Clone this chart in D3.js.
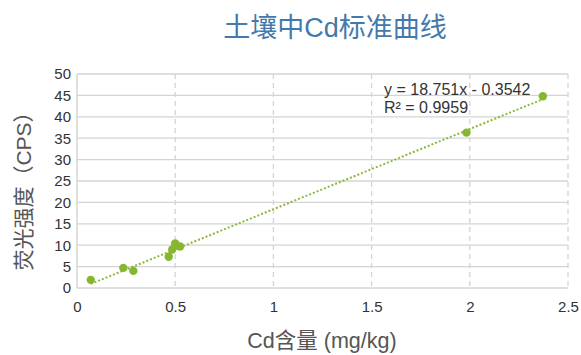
<!DOCTYPE html>
<html>
<head>
<meta charset="utf-8">
<script src="https://cdn.jsdelivr.net/npm/d3@7"></script>
<style>
  html, body { margin: 0; padding: 0; background: #fff; }
  svg { display: block; }
</style>
</head>
<body>
<svg id="chart" width="581" height="355"></svg>
<script>
// Calibration samples: Cd content (mg/kg) vs fluorescence intensity (CPS)
const concentration = [0.07, 0.236, 0.287, 0.467, 0.485, 0.5, 0.525, 1.983, 2.372];
const intensity     = [1.9, 4.7, 4.0, 7.3, 9.0, 10.4, 9.7, 36.3, 44.8];

// Linear fit reported for the calibration curve
const slope = 18.751;
const intercept = -0.3542;
const rSquared = 0.9959;

const xTicks = [0, 0.5, 1, 1.5, 2, 2.5];
const yTicks = [0, 5, 10, 15, 20, 25, 30, 35, 40, 45, 50];

const titleText = "土壤中Cd标准曲线";
const xLabel = "Cd含量 (mg/kg)";
const yLabel = "荧光强度（CPS）";

const svg = d3.select("#chart");
const latin = "'Liberation Sans', Arial, sans-serif";
const cjk = "'Liberation Sans', 'Noto Sans CJK SC', sans-serif";

const m = { left: 77, right: 568, top: 74, bottom: 288 };
const x = d3.scaleLinear().domain([0, 2.5]).range([m.left, m.right]);
const y = d3.scaleLinear().domain([0, 50]).range([m.bottom, m.top]);

// Horizontal gridlines (solid)
svg.append("g")
  .selectAll("line")
  .data(yTicks)
  .join("line")
  .attr("x1", m.left).attr("x2", m.right)
  .attr("y1", d => y(d)).attr("y2", d => y(d))
  .attr("stroke", "#d4d4d4").attr("stroke-width", 1.3);

// Vertical gridlines (dashed)
svg.append("g")
  .selectAll("line")
  .data(xTicks.filter(d => d > 0))
  .join("line")
  .attr("x1", d => x(d)).attr("x2", d => x(d))
  .attr("y1", m.top).attr("y2", m.bottom)
  .attr("stroke", "#d4d4d4").attr("stroke-width", 1.3)
  .attr("stroke-dasharray", "5,4");

// Left axis line
svg.append("line")
  .attr("x1", m.left).attr("x2", m.left)
  .attr("y1", m.top).attr("y2", m.bottom)
  .attr("stroke", "#cfcfcf").attr("stroke-width", 1.3);

// Tick labels via d3 axes
const yAxis = svg.append("g")
  .attr("transform", `translate(${m.left},0)`)
  .call(d3.axisLeft(y).tickValues(yTicks).tickSize(0).tickPadding(6).tickFormat(d3.format("d")));
yAxis.select(".domain").remove();
yAxis.selectAll("text")
  .attr("font-family", latin).attr("font-size", 15).attr("fill", "#333");

const xAxis = svg.append("g")
  .attr("transform", `translate(0,${m.bottom})`)
  .call(d3.axisBottom(x).tickValues(xTicks).tickSize(0).tickPadding(13).tickFormat(d => String(d)));
xAxis.select(".domain").remove();
xAxis.selectAll("text")
  .attr("font-family", latin).attr("font-size", 15).attr("fill", "#333");

// Trendline drawn from the fitted equation across the data range
const xMin = d3.min(concentration), xMax = d3.max(concentration);
svg.append("line")
  .attr("x1", x(xMin)).attr("y1", y(slope * xMin + intercept))
  .attr("x2", x(xMax)).attr("y2", y(slope * xMax + intercept))
  .attr("stroke", "#8ab936").attr("stroke-width", 2)
  .attr("stroke-dasharray", "2,2");

// Data points
svg.append("g")
  .selectAll("circle")
  .data(concentration.map((c, i) => [c, intensity[i]]))
  .join("circle")
  .attr("cx", d => x(d[0])).attr("cy", d => y(d[1]))
  .attr("r", 4.2)
  .attr("fill", "#86b82f");

// Equation label
const eq = svg.append("text")
  .attr("font-family", latin).attr("font-size", 16).attr("fill", "#333");
eq.append("tspan").attr("x", 384).attr("y", 95)
  .text(`y = ${slope}x - ${Math.abs(intercept)}`);
eq.append("tspan").attr("x", 384).attr("y", 113).text(`R² = ${rSquared}`);

// Title
svg.append("text")
  .attr("x", 335).attr("y", 37)
  .attr("text-anchor", "middle")
  .attr("font-family", cjk).attr("font-size", 27)
  .attr("fill", "#4379ab")
  .text(titleText);

// Axis titles
svg.append("text")
  .attr("x", 322).attr("y", 348)
  .attr("text-anchor", "middle")
  .attr("font-family", cjk).attr("font-size", 21.5)
  .attr("fill", "#555")
  .text(xLabel);

svg.append("text")
  .attr("transform", "translate(31,186) rotate(-90)")
  .attr("text-anchor", "middle")
  .attr("font-family", cjk).attr("font-size", 21)
  .attr("fill", "#555")
  .text(yLabel);
</script>
</body>
</html>
